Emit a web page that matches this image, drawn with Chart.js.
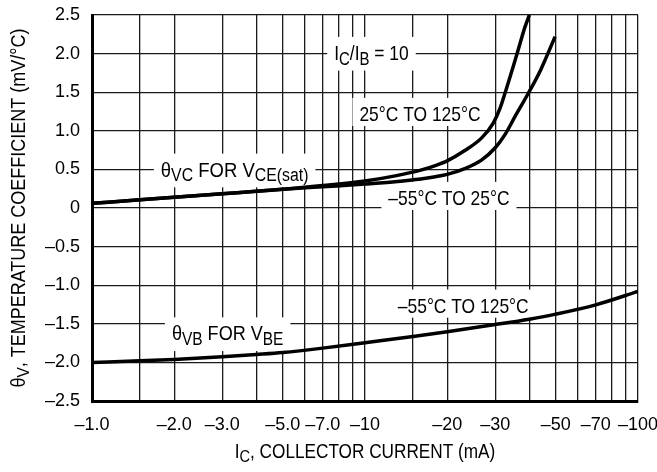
<!DOCTYPE html>
<html><head><meta charset="utf-8">
<script src="https://cdn.jsdelivr.net/npm/chart.js@4.4.1/dist/chart.umd.min.js"></script>
<style>html,body{margin:0;padding:0;background:#fff;}</style>
</head><body>
<canvas id="c" width="657" height="472"></canvas>
<script>
// ---- data (collector current magnitude in mA, temperature coefficient in mV/°C) ----
const gridCurrents = [1,1.5,2,3,4,5,6,7,8,9,10,15,20,30,40,50,60,70,80,90,100];
const xTickValues = [1,2,3,5,7,10,20,30,50,70,100];
const xTickLabels = ['\u20131.0','\u20132.0','\u20133.0','\u20135.0','\u20137.0','\u201310','\u201320','\u201330','\u201350','\u201370','\u2013100'];
const yTickValues = [2.5,2,1.5,1,0.5,0,-0.5,-1,-1.5,-2,-2.5];
const yTickLabels = ['2.5','2.0','1.5','1.0','0.5','0','\u20130.5','\u20131.0','\u20131.5','\u20132.0','\u20132.5'];

// θVC for VCE(sat), 25°C to 125°C
const vcHotI = [1,1.5,2,3,4,5,7,10,12.9,16,18.1,20,23.2,26.7,29.5,31.3,33,35,37,38.5,40];
const vcHotV = [0.06,0.106,0.138,0.184,0.217,0.242,0.29,0.35,0.416,0.491,0.55,0.61,0.744,0.905,1.10,1.30,1.552,1.846,2.135,2.34,2.5];
// θVC for VCE(sat), –55°C to 25°C
const vcColdI = [1,1.5,2,3,4,5,7,10,12.9,16,18.1,20,23.2,26.7,30,32.6,35.5,39.7,44,49.7];
const vcColdV = [0.06,0.106,0.138,0.184,0.217,0.242,0.275,0.31,0.34,0.375,0.405,0.435,0.51,0.62,0.78,0.954,1.189,1.49,1.789,2.22];
// θVB for VBE, –55°C to 125°C
const vbI = [1,1.5,2,3,4,5,7,10,15,20,30,40,50,70,100];
const vbV = [-2.0,-1.98,-1.962,-1.928,-1.898,-1.872,-1.815,-1.745,-1.665,-1.603,-1.51,-1.44,-1.375,-1.255,-1.08];

const FONT = '"Liberation Sans", Arial, sans-serif';

function pts(xs, ys){ return xs.map((x,i)=>({x:x, y:ys[i]})); }

function drawRich(ctx, parts, cx, by, size, sx, box){
  const sub = Math.round(size*0.85);
  const drop = size*0.22;
  let w = 0;
  const ws = parts.map(p=>{ ctx.font = (p.sub?sub:size)+'px '+FONT; const m = ctx.measureText(p.t).width*sx; w+=m; return m; });
  if (box){
    const hasSub = parts.some(p=>p.sub);
    ctx.fillStyle = '#fff';
    const top = by - size*0.72 - 8;
    const bot = by + (hasSub ? drop + sub*0.22 + 2 : 5);
    ctx.fillRect(cx - w/2 - 7, top, w + 14, bot - top);
  }
  ctx.fillStyle = '#000';
  ctx.textBaseline = 'alphabetic';
  ctx.textAlign = 'left';
  let x = cx - w/2;
  parts.forEach((p,i)=>{
    ctx.save();
    ctx.font = (p.sub?sub:size)+'px '+FONT;
    ctx.translate(x, by + (p.sub? drop : 0));
    ctx.scale(sx,1);
    ctx.fillText(p.t,0,0);
    ctx.restore();
    x += ws[i];
  });
}

const textPlugin = {
  id: 'texts',
  beforeDatasetsDraw(chart, args, opts){
    const ctx = chart.ctx, xs = chart.scales.x, ys = chart.scales.y;
    ctx.save();
    opts.notes.forEach(n=>{
      drawRich(ctx, n.parts, xs.getPixelForValue(n.at[0]), ys.getPixelForValue(n.at[1]), 21, n.sx || 0.83, true);
    });
    ctx.restore();
  },
  afterDraw(chart, args, opts){
    const ctx = chart.ctx, a = chart.chartArea;
    ctx.save();
    drawRich(ctx, opts.xTitle, (a.left+a.right)/2, 458, 20, 0.86, false);
    ctx.translate(25, (a.top+a.bottom)/2);
    ctx.rotate(-Math.PI/2);
    drawRich(ctx, opts.yTitle, 0, 0, 20, 0.9, false);
    ctx.restore();
  }
};

const lineStyle = {borderColor:'#000', borderWidth:3.5, pointRadius:0, fill:false, cubicInterpolationMode:'monotone'};

new Chart(document.getElementById('c'), {
  type: 'line',
  data: { datasets: [
    Object.assign({label:'25°C TO 125°C', data: pts(vcHotI, vcHotV)}, lineStyle),
    Object.assign({label:'–55°C TO 25°C', data: pts(vcColdI, vcColdV)}, lineStyle),
    Object.assign({label:'–55°C TO 125°C', data: pts(vbI, vbV)}, lineStyle)
  ]},
  options: {
    responsive: false, animation: false, devicePixelRatio: 1,
    layout: { padding: { left: 0, right: 19, top: 15, bottom: 0 } },
    plugins: {
      legend: {display:false}, tooltip: {enabled:false},
      texts: {
        notes: [
          {at:[10.56, 1.917], parts:[{t:'I'},{t:'C',sub:true},{t:'/I'},{t:'B',sub:true},{t:' = 10'}]},
          {at:[15.9, 1.127], parts:[{t:'25\u00B0C TO 125\u00B0C'}]},
          {at:[3.33, 0.405], sx:0.88, parts:[{t:'\u03B8'},{t:'VC',sub:true},{t:' FOR V'},{t:'CE(sat)',sub:true}]},
          {at:[20.3, 0.039], parts:[{t:'\u201355\u00B0C TO 25\u00B0C'}]},
          {at:[22.9, -1.356], parts:[{t:'\u201355\u00B0C TO 125\u00B0C'}]},
          {at:[3.14, -1.716], sx:0.86, parts:[{t:'\u03B8'},{t:'VB',sub:true},{t:' FOR V'},{t:'BE',sub:true}]}
        ],
        xTitle: [{t:'I'},{t:'C',sub:true},{t:', COLLECTOR CURRENT (mA)'}],
        yTitle: [{t:'\u03B8'},{t:'V',sub:true},{t:', TEMPERATURE COEFFICIENT (mV/\u00B0C)'}]
      }
    },
    scales: {
      x: {
        type: 'logarithmic', min: 1, max: 100,
        afterBuildTicks: s => { s.ticks = gridCurrents.map(v=>({value:v})); },
        afterFit: s => { s.height = 71; s.paddingLeft = 0; s.paddingRight = 0; },
        ticks: {
          autoSkip:false, maxRotation:0, minRotation:0, padding:13, color:'#000',
          font:{family:FONT, size:18},
          callback: v => { const k = xTickValues.indexOf(v); return k>=0 ? xTickLabels[k] : ''; }
        },
        grid: {color:'#1a1a1a', lineWidth:1.3, drawTicks:false},
        border: {color:'#000', width:3}
      },
      y: {
        type: 'linear', min: -2.5, max: 2.5,
        afterBuildTicks: s => { s.ticks = yTickValues.map(v=>({value:v})); },
        afterFit: s => { s.width = 92; s.paddingTop = 0; s.paddingBottom = 0; },
        ticks: {
          padding:12, color:'#000',
          font:{family:FONT, size:18},
          callback: v => { const k = yTickValues.indexOf(v); return k>=0 ? yTickLabels[k] : ''; }
        },
        grid: {color:'#1a1a1a', lineWidth:1.3, drawTicks:false},
        border: {color:'#000', width:3}
      }
    }
  },
  plugins: [textPlugin]
});
</script>
</body></html>
